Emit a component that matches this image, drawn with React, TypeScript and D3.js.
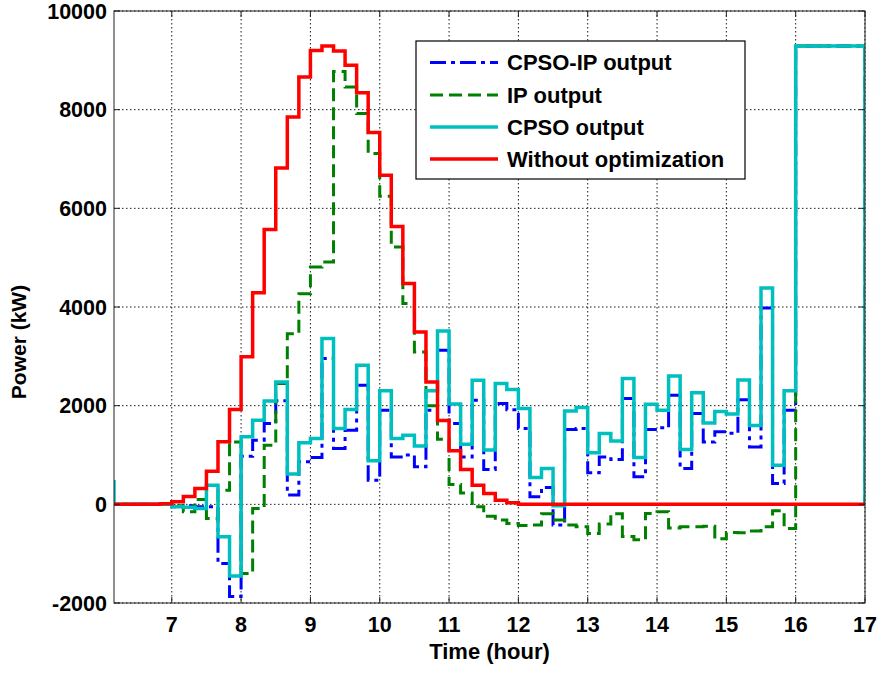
import React from 'react';
import * as d3 from 'd3';

// time grid: 10-minute steps starting at 6:00 (first step lies left of the axis)
const startHour = 6;
const stepMinutes = 10;

const cpsoIpOutput = [
  0,
  0, 0, 0, 0, 0,
  -50, -30, -50, -50, -1200, -1870,
  977, 1300, 1640, 2100, 190, 861, 950, 2955, 1130, 1500,
  2415, 490, 1908, 962, 1000, 760, 1908, 3124, 1639, 960,
  2111, 707, 2044, 1918, 1538, 152, 342, -421, 1517, 1538,
  638, 962, 908, 2145, 557, 1517, 1550, 2212, 727, 1841,
  1266, 1469, 1440, 2120, 1160, 3980, 423, 1908,
  9290, 9290, 9290, 9290, 9290, 9290,
  0,
];

const ipOutput = [
  0,
  0, 0, 0, 0, 0,
  -30, -150, 100, -286, 288, 1266,
  -1400, -84, 1199, 2450, 3460, 4270, 4810, 4910, 8775, 8460,
  7920, 7110, 6245, 5215, 4070, 3090, 2000, 1320, 400, 230,
  -50, -240, -320, -390, -430, -420, -190, -320, -420, -455,
  -590, -400, -190, -650, -720, -185, -150, -480, -455, -455,
  -445, -700, -570, -575, -540, -455, -130, -490,
  9290, 9290, 9290, 9290, 9290, 9290,
  0,
];

const cpsoOutput = [
  456,
  0, 0, 0, 0, 0,
  -50, -60, -85, 389, -658, -1455,
  1368, 1706, 2097, 2482, 615, 1246, 1335, 3360, 1537, 1922,
  2820, 882, 2300, 1335, 1400, 1180, 2300, 3515, 2035, 1220,
  2516, 1100, 2450, 2330, 1943, 545, 727, -30, 1894, 1963,
  1044, 1436, 1285, 2550, 950, 2030, 1908, 2600, 1112, 2260,
  1651, 1880, 1830, 2520, 1600, 4386, 794, 2300,
  9290, 9290, 9290, 9290, 9290, 9290,
  0,
];

const withoutOptimization = [
  0,
  0, 0, 0, 0, 10,
  50, 160, 320, 670, 1270, 1920,
  2990, 4290, 5570, 6820, 7850, 8660, 9200, 9290, 9190, 8900,
  8345, 7535, 6670, 5630, 4475, 3495, 2480, 1700, 1085, 707,
  389, 220, 85, 30, 0, 0, 0, 0, 0, 0,
  0, 0, 0, 0, 0, 0, 0, 0, 0, 0,
  0, 0, 0, 0, 0, 0, 0, 0,
  0, 0, 0, 0, 0, 0,
  0,
];

const xTicks = [7, 8, 9, 10, 11, 12, 13, 14, 15, 16, 17];
const yTicks = [-2000, 0, 2000, 4000, 6000, 8000, 10000];
const xDomain = [6 + 10 / 60, 17];
const yDomain = [-2000, 10000];

const seriesNames = ['CPSO-IP output', 'IP output', 'CPSO output', 'Without optimization'];

const W = 879;
const H = 673;
const M = { left: 114, right: 865, top: 11, bottom: 603 };
const FONT = '"Liberation Sans", Arial, Helvetica, sans-serif';

const times = cpsoIpOutput.map((_, i) => startHour + (i * stepMinutes) / 60);

const styles = [
  { color: '#0000ff', width: 3, dash: '16 5 4 5' },
  { color: '#008000', width: 3, dash: '13 6' },
  { color: '#00bfbf', width: 3.5, dash: null as string | null },
  { color: '#ff0000', width: 3.5, dash: null as string | null },
];

export default function App() {
  const x = d3.scaleLinear().domain(xDomain).range([M.left, M.right]);
  const y = d3.scaleLinear().domain(yDomain).range([M.bottom, M.top]);
  const allSeries = [cpsoIpOutput, ipOutput, cpsoOutput, withoutOptimization];

  const line = d3
    .line<number>()
    .x((_, i) => x(times[i]))
    .y((d) => y(d))
    .curve(d3.curveStepAfter);

  const tickLen = 6;
  const legend = { x: 416, y: 41, w: 329, h: 138 };
  const rowY = [62.5, 95, 127, 159];

  return (
    <svg
      width={W}
      height={H}
      style={{ position: 'absolute', left: 0, top: 0, background: '#fff' }}
      fontFamily={FONT}
    >
      <defs>
        <clipPath id="plotClip">
          <rect x={M.left} y={M.top} width={M.right - M.left} height={M.bottom - M.top} />
        </clipPath>
      </defs>
      <rect x={0} y={0} width={W} height={H} fill="#fff" />
      {/* grid */}
      <g stroke="#000" strokeWidth={0.9} strokeDasharray="1.5 2.5">
        {xTicks.map((t) => (
          <line key={'gx' + t} x1={x(t)} x2={x(t)} y1={M.top} y2={M.bottom} />
        ))}
        {yTicks.map((t) => (
          <line key={'gy' + t} x1={M.left} x2={M.right} y1={y(t)} y2={y(t)} />
        ))}
      </g>
      {/* data */}
      <g clipPath="url(#plotClip)" fill="none">
        {allSeries.map((s, i) => (
          <path
            key={i}
            d={line(s) || ''}
            stroke={styles[i].color}
            strokeWidth={styles[i].width}
            strokeDasharray={styles[i].dash || undefined}
            strokeLinejoin="miter"
          />
        ))}
      </g>
      {/* axes box */}
      <rect
        x={M.left}
        y={M.top}
        width={M.right - M.left}
        height={M.bottom - M.top}
        fill="none"
        stroke="#222"
        strokeWidth={1}
      />
      <g stroke="#222" strokeWidth={1}>
        {xTicks.map((t) => (
          <g key={'tx' + t}>
            <line x1={x(t)} x2={x(t)} y1={M.bottom} y2={M.bottom - tickLen} />
            <line x1={x(t)} x2={x(t)} y1={M.top} y2={M.top + tickLen} />
          </g>
        ))}
        {yTicks.map((t) => (
          <g key={'ty' + t}>
            <line x1={M.left} x2={M.left + tickLen} y1={y(t)} y2={y(t)} />
            <line x1={M.right} x2={M.right - tickLen} y1={y(t)} y2={y(t)} />
          </g>
        ))}
      </g>
      {/* tick labels */}
      <g fontSize={21.5} fontWeight="bold" fill="#000">
        {xTicks.map((t) => (
          <text key={'lx' + t} x={x(t)} y={632} textAnchor="middle">
            {t}
          </text>
        ))}
        {yTicks.map((t) => (
          <text key={'ly' + t} x={M.left - 7} y={y(t) + 7.5} textAnchor="end">
            {t}
          </text>
        ))}
      </g>
      <text x={(M.left + M.right) / 2} y={659} textAnchor="middle" fontSize={22} fontWeight="bold">
        Time (hour)
      </text>
      <text
        transform={`translate(26, 342) rotate(-90)`}
        textAnchor="middle"
        fontSize={21}
        fontWeight="bold"
      >
        Power (kW)
      </text>
      {/* legend */}
      <rect x={legend.x} y={legend.y} width={legend.w} height={legend.h} fill="#fff" stroke="#000" strokeWidth={1.2} />
      {seriesNames.map((name, i) => (
        <g key={name}>
          <line
            x1={430}
            x2={498}
            y1={rowY[i]}
            y2={rowY[i]}
            stroke={styles[i].color}
            strokeWidth={styles[i].width}
            strokeDasharray={styles[i].dash || undefined}
          />
          <text x={507} y={rowY[i] + 7.5} fontSize={22} fontWeight="bold">
            {name}
          </text>
        </g>
      ))}
    </svg>
  );
}
